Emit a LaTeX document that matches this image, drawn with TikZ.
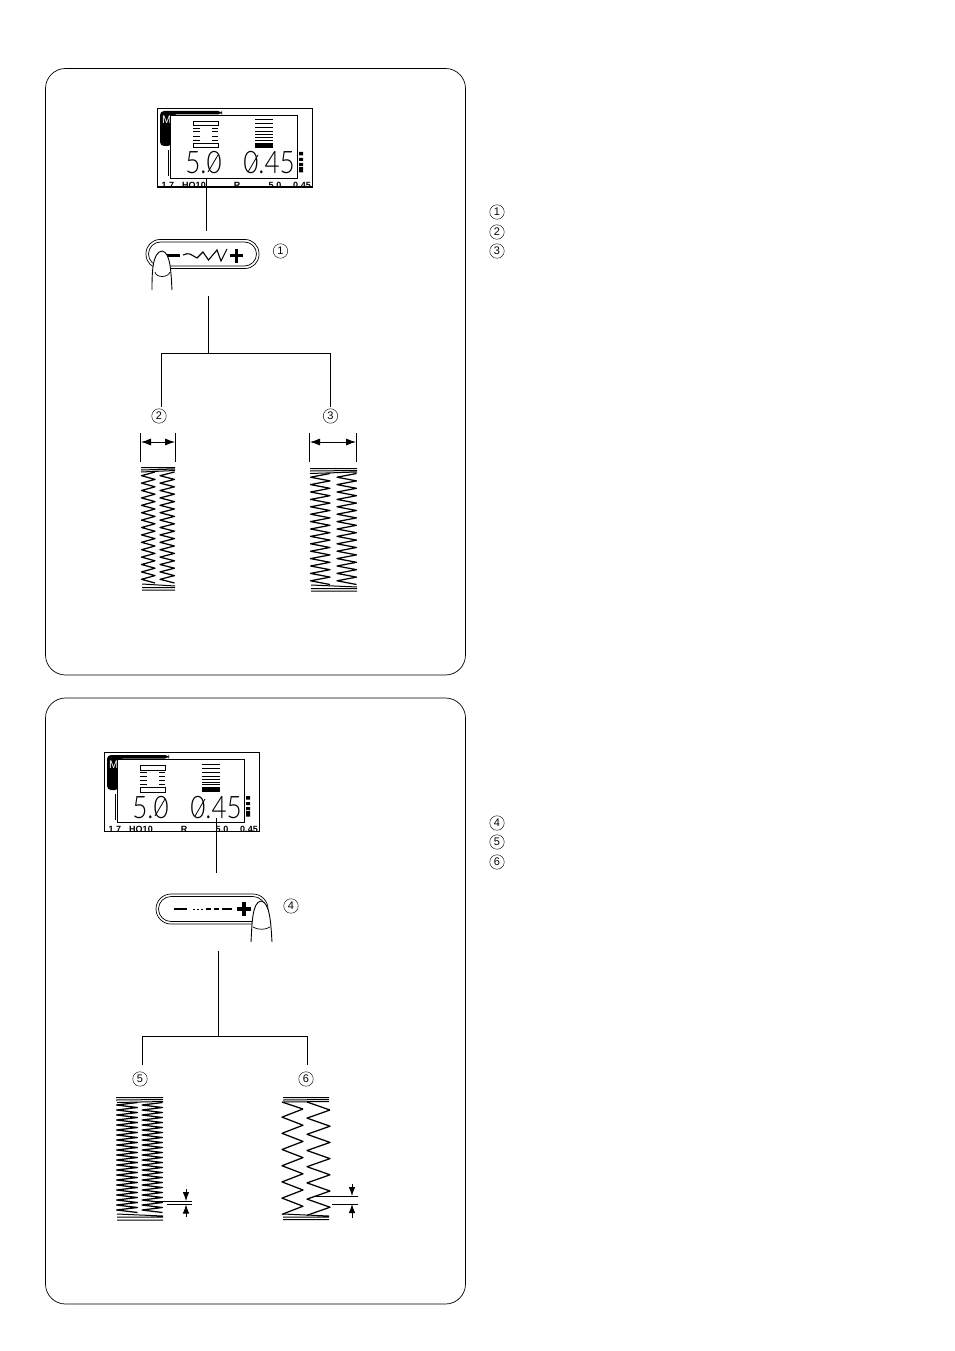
\documentclass[tikz,border=0pt]{standalone}
\usepackage{fontspec}
\usetikzlibrary{arrows.meta}
\setmainfont{Liberation Sans}
\newfontfamily\lcdfont{Lato Light}
\tikzset{
  x=1pt,y=-1pt,
  panel/.style={draw,line width=0.7pt,rounded corners=20pt},
  conn/.style={line width=0.8pt},
  dimline/.style={line width=0.8pt},
  dimarrow/.style={line width=0.8pt,{Latex[length=10pt,width=7pt]}-{Latex[length=10pt,width=7pt]}},
  onearrow/.style={line width=0.8pt,-{Latex[length=9pt,width=6.5pt]}},
  zig/.style={line width=1.25pt,line join=round},
  bar/.style={line width=1pt},
  num/.style={circle,draw,line width=0.45pt,minimum size=14.5pt,inner sep=0pt,font=\fontsize{11}{11}\selectfont},
  btnouter/.style={draw,line width=0.7pt,rounded corners=14pt,minimum width=113pt,minimum height=29pt,inner sep=0pt},
  btninner/.style={draw,line width=0.7pt,rounded corners=12pt,minimum width=108pt,minimum height=24pt,inner sep=0pt},
  lcdbox/.style={draw,line width=1.3pt,fill=white,inner sep=0pt},
  lcdnum/.style={font=\lcdfont\fontsize{31}{31}\selectfont,inner sep=0pt},
  lcdsmall/.style={font=\fontsize{9}{9}\bfseries\selectfont,inner sep=0pt},
  sym/.style={line width=3.2pt},
  finger/.style={line width=0.9pt},
}
% \lcdpanel{name}{xshift}{yshift}
\newcommand{\lcdpanel}[3]{%
\begin{scope}[shift={(#2,#3)}]
  \node[lcdbox,minimum width=155pt,minimum height=79pt,anchor=north west] (#1outer) at (157,108) {};
  \begin{scope}
    \clip (157,108) rectangle (312,187);
    \node[lcdsmall,anchor=base] (#1a) at (168,188.5) {1 7};
    \node[lcdsmall,anchor=base] (#1b) at (194,188.5) {HO10};
    \node[lcdsmall,anchor=base] (#1c) at (237,188.5) {R};
    \node[lcdsmall,anchor=base] (#1d) at (275,188.5) {5.0};
    \node[lcdsmall,anchor=base] (#1e) at (302,188.5) {0.45};
  \end{scope}
  \draw[line width=1.6pt] (157,187.3) -- (312,187.3);
  \fill[rounded corners=4pt] (160,146) -- (160,111) -- (222,111) -- (222,114.5) -- (172,114.5) -- (172,146) -- cycle;
  \node[font=\fontsize{11}{11}\selectfont,white,inner sep=0pt,anchor=base west] (#1m) at (162,124) {M};
  \draw[line width=0.8pt] (168,150) -- (168,176);
  \fill (299,152) rectangle (303,155.5) (299,158) rectangle (303,161) (299,163) rectangle (303,166) (299,167) rectangle (303,172.5);
  \node[lcdbox,minimum width=127pt,minimum height=63pt,anchor=north west] (#1inner) at (170,115) {};
  \draw[line width=1pt] (193.5,121.5) rectangle (218,126) (193.5,143.5) rectangle (218,148);
  \foreach \yy in {128.5,132,136.5,140.5}
    \draw[line width=1pt] (193,\yy) -- (200,\yy) (212,\yy) -- (218,\yy);
  \foreach \yy in {120,124,128,132,135,138,140.5}
    \draw[line width=1pt] (255,\yy) -- (273,\yy);
  \fill (255,143) rectangle (273,148);
  \node[lcdnum,anchor=base] (#1v) at (203.5,174) {\scalebox{.84}[1]{5.0}};
  \node[lcdnum,anchor=base] (#1w) at (269,174) {\scalebox{.84}[1]{0.45}};
  \draw[line width=0.8pt] (208,172) -- (218,155);
  \draw[line width=0.8pt] (248,172) -- (258,155);
\end{scope}}
% \stitch{x1}{x2}{ytop}{n}{period}: zigzag
\newcommand{\stitch}[5]{%
  \draw[zig] plot[samples at={0,...,#4}] ({#1+(#2-#1)*mod(\x,2)},{#3+\x*#5/2});}
\begin{document}
\begin{tikzpicture}
\useasboundingbox (0,0) rectangle (954,1351);
\fill[white] (0,0) rectangle (954,1351);
\draw[panel] (45.5,68.5) rectangle (465.5,675);
\draw[panel] (45.5,698) rectangle (465.5,1304);

% ---------- upper panel
\lcdpanel{la}{0}{0}
\node[btnouter] (ba) at (202.5,254) {};
\node[btninner] (bai) at (202.5,254) {};
\draw[line width=3pt] (167,255.5) -- (180,255.5);
\draw[line width=1.1pt,line join=miter] (183,255) .. controls (186,253.5) and (188,253.5) .. (190,254) -- (197,258) -- (203,252) -- (208.5,260) -- (217,250) -- (221,261) -- (227,249);
\draw[sym] (230,255.5) -- (243,255.5) (236.5,248.5) -- (236.5,262.5);
\fill[white] (152,290) .. controls (152,275) and (152,252) .. (162,251) .. controls (171,252) and (171,275) .. (172,290) -- cycle;
\draw[finger] (152,290) .. controls (152,275) and (152,252) .. (162,251) .. controls (171,252) and (171,275) .. (172,290);
\draw[line width=0.7pt] (155,272) .. controls (156,278) and (168,278) .. (170,272);
\node[num] (n1) at (280.5,251) {1};

\coordinate (ca0) at (206,178);
\coordinate (ca1) at (206,231);
\draw[conn] (ca0) -- (ca1);
\coordinate (ca2) at (208,296);
\coordinate (ca3) at (208,353);
\coordinate (ca4) at (161,353);
\coordinate (ca5) at (330,353);
\coordinate (ca6) at (161,407);
\coordinate (ca7) at (330,407);
\draw[conn] (ca2) -- (ca3);
\draw[conn] (ca6) -- (ca4) -- (ca5) -- (ca7);
\node[num] (n2) at (159,416) {2};
\node[num] (n3) at (330.5,416) {3};

\coordinate (da1) at (140.5,433); \coordinate (da2) at (140.5,462);
\coordinate (da3) at (175.5,433); \coordinate (da4) at (175.5,462);
\draw[dimline] (da1) -- (da2) (da3) -- (da4);
\draw[dimarrow] (141,442) -- (175,442);
\coordinate (db1) at (309.5,433); \coordinate (db2) at (309.5,462);
\coordinate (db3) at (356.5,433); \coordinate (db4) at (356.5,462);
\draw[dimline] (db1) -- (db2) (db3) -- (db4);
\draw[dimarrow] (310,442) -- (356,442);

% stitches 2
\draw[bar] (141,467.5) -- (175,467.5) (141,470) -- (175,469) (141,472) -- (175,470.5);
\stitch{155}{141.5}{472}{30}{7.4}
\stitch{174.5}{160}{472}{30}{7.4}
\draw[bar] (142,584) -- (175,586) (142,587.5) -- (175,587.5) (142,590) -- (175,590);
% stitches 3
\draw[bar] (310,468.5) -- (357,468.5) (310,471) -- (357,470.5) (310,473.5) -- (357,472);
\stitch{330}{310.5}{473.5}{30}{7.4}
\stitch{356.5}{337}{473.5}{30}{7.4}
\draw[bar] (311,585) -- (357,587) (311,588.5) -- (357,588.5) (311,591) -- (357,591);

% ---------- lower panel
\lcdpanel{lb}{-53}{644}
\node[btnouter,minimum width=112pt,minimum height=30pt,rounded corners=15pt] (bb) at (212,909) {};
\node[btninner,minimum width=107pt,minimum height=25pt,rounded corners=12.5pt] (bbi) at (212,909) {};
\draw[line width=2.4pt] (174,909) -- (187,909);
\draw[line width=1pt] (193,909) -- (195,909) (197,909) -- (199,909) (201,909) -- (203,909);
\draw[line width=1.4pt] (206,909) -- (211,909) (214,909) -- (219,909) (222,909) -- (232,909);
\draw[sym] (237,909) -- (251,909) (244,902) -- (244,916);
\fill[white] (251,942) .. controls (252,925) and (252,902) .. (261,901) .. controls (270,902) and (271,925) .. (272,942) -- cycle;
\draw[finger] (251,942) .. controls (252,925) and (252,902) .. (261,901) .. controls (270,902) and (271,925) .. (272,942);
\draw[line width=0.7pt] (253,927) .. controls (257,930) and (266,930) .. (270,927);
\node[num] (n4) at (291,906) {4};

\coordinate (cb0) at (216,818);
\coordinate (cb1) at (216,873);
\draw[conn] (cb0) -- (cb1);
\coordinate (cb2) at (218,951);
\coordinate (cb3) at (218,1036);
\coordinate (cb4) at (142,1036);
\coordinate (cb5) at (307,1036);
\coordinate (cb6) at (142,1065);
\coordinate (cb7) at (307,1065);
\draw[conn] (cb2) -- (cb3);
\draw[conn] (cb6) -- (cb4) -- (cb5) -- (cb7);
\node[num] (n5) at (140,1079) {5};
\node[num] (n6) at (306,1079) {6};

% stitches 5
\draw[bar] (116,1097.5) -- (163,1097.5) (116,1100) -- (163,1099.5) (117,1102.5) -- (163,1101.5);
\stitch{137.5}{116.5}{1102.5}{44}{5}
\stitch{162.5}{142}{1102.5}{44}{5}
\draw[bar] (117,1214) -- (163,1216) (117,1217) -- (163,1217) (117,1220) -- (163,1220);
\coordinate (ea1) at (157,1201); \coordinate (ea2) at (192,1201);
\coordinate (ea3) at (167,1204.5); \coordinate (ea4) at (192,1204.5);
\draw[dimline] (ea1) -- (ea2) (ea3) -- (ea4);
\coordinate (ea5) at (186,1189); \coordinate (ea6) at (186,1201);
\coordinate (ea7) at (186,1217); \coordinate (ea8) at (186,1204.5);
\draw[onearrow] (ea5) -- (ea6);
\draw[onearrow] (ea7) -- (ea8);

% stitches 6
\draw[bar] (283,1097.5) -- (329,1097.5) (283,1100) -- (329,1099.5) (283,1102) -- (329,1101.5);
\draw[zig] (282,1102) -- (303,1109);
\stitch{303}{282}{1109}{13}{16.2}
\draw[zig] (307,1102) -- (330,1110);
\stitch{330}{307}{1110}{13}{16.2}
\draw[bar] (283,1214) -- (329,1216) (283,1217) -- (329,1217) (283,1219.5) -- (329,1219.5);
\coordinate (eb1) at (313,1196); \coordinate (eb2) at (358,1196);
\coordinate (eb3) at (332,1204); \coordinate (eb4) at (358,1204);
\draw[dimline] (eb1) -- (eb2) (eb3) -- (eb4);
\coordinate (eb5) at (352,1184); \coordinate (eb6) at (352,1196);
\coordinate (eb7) at (352,1218); \coordinate (eb8) at (352,1204);
\draw[onearrow] (eb5) -- (eb6);
\draw[onearrow] (eb7) -- (eb8);

% ---------- right-hand numbers
\node[num] (r1) at (497,212) {1};
\node[num] (r2) at (497,232) {2};
\node[num] (r3) at (497,251) {3};
\node[num] (r4) at (497,823) {4};
\node[num] (r5) at (497,842) {5};
\node[num] (r6) at (497,862) {6};
\end{tikzpicture}
\end{document}
